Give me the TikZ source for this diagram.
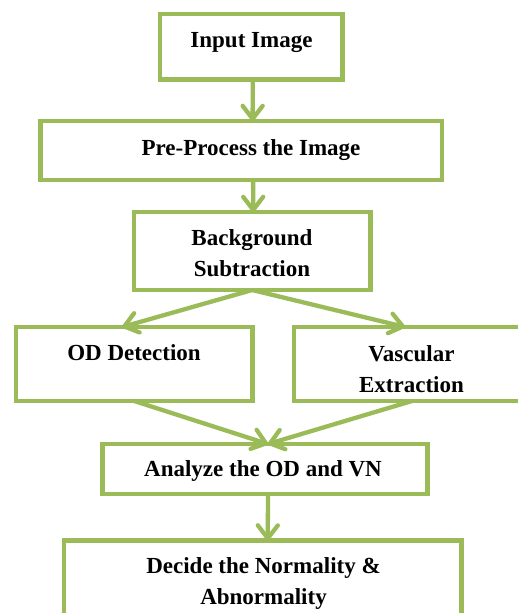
\documentclass[tikz,border=0pt]{standalone}
\usepackage{fontspec}
\setmainfont{Liberation Serif}
\usetikzlibrary{arrows.meta}

\definecolor{c9bbb59}{RGB}{155,187,89}
\definecolor{cffffff}{RGB}{255,255,255}

\begin{document}
\begin{tikzpicture}[y=1pt, x=1pt, yscale=-1, inner sep=0pt, outer sep=0pt,
    box/.style={draw=c9bbb59, fill=cffffff, line width=4.3pt},
    arr/.style={draw=c9bbb59, line width=4.3pt, -{Straight Barb[length=13pt,width=20pt,round]}},
    txt/.style={anchor=base, align=center, font=\fontsize{23}{31}\selectfont\bfseries}]
  \path[fill=cffffff] (0,0) rectangle (518,613);
  \useasboundingbox (0,0) rectangle (518,613);

  % boxes
  \path (251.25,46.75) node[box, minimum width=182.5, minimum height=65.5] (input) {};
  \path (241.1,150.5) node[box, minimum width=401.2, minimum height=59] (preproc) {};
  \path (252.25,251) node[box, minimum width=236.5, minimum height=78] (backsub) {};
  \path (134.25,364) node[box, minimum width=236.5, minimum height=74] (oddetect) {};
  \path (412,364) node[box, minimum width=236, minimum height=74] (vascular) {};
  \path (265,469) node[box, minimum width=325, minimum height=50] (analyze) {};
  \path (262.75,590.5) node[box, minimum width=397.5, minimum height=100] (decide) {};

  % texts (base = last line)
  \path[fill=black] (251.5,47) node[txt] (textInput) {Input Image};
  \path[fill=black] (251,155) node[txt] (textPre) {Pre-Process the Image};
  \path[fill=black] (252,276.5) node[txt] (textBack) {Background\\Subtraction};
  \path[fill=black] (134,360) node[txt] (textOD) {OD Detection};
  \path[fill=black] (411.5,392) node[txt] (textVasc) {Vascular\\Extraction};
  \path[fill=black] (263,476.5) node[txt] (textAnalyze) {Analyze the OD and VN};
  \path[fill=black] (263.5,604) node[txt] (textDecide) {Decide the Normality \&\\Abnormality};

  % arrows
  \path[arr] ([xshift=1.5pt]input.south) -- ([xshift=11.5pt]preproc.north);
  \path[arr] ([xshift=12pt]preproc.south) -- ([xshift=1pt]backsub.north);
  \path[arr] (backsub.south) -- ([xshift=-12pt]oddetect.north);
  \path[arr] (backsub.south) -- ([xshift=-7pt]vascular.north);
  \path[arr] (oddetect.south) -- ([xshift=3pt]analyze.north);
  \path[arr] (vascular.south) -- ([xshift=3pt]analyze.north);
  \path[arr] ([xshift=3pt]analyze.south) -- ([xshift=5pt]decide.north);

\end{tikzpicture}
\end{document}
